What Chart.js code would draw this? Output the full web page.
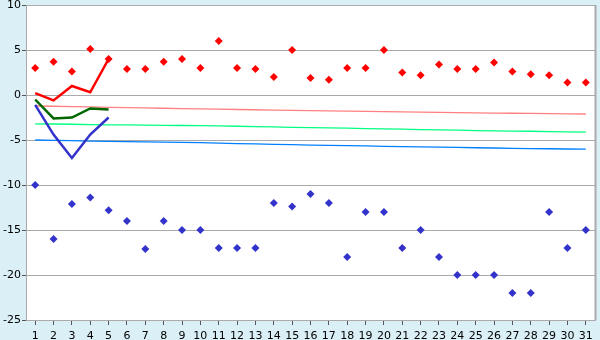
<!DOCTYPE html>
<html>
<head>
<meta charset="utf-8">
<script src="https://cdn.jsdelivr.net/npm/chart.js@4/dist/chart.umd.min.js"></script>
<style>
  html, body { margin: 0; padding: 0; background: #daf0f6; }
</style>
</head>
<body>
<canvas id="tempChart" width="600" height="340"></canvas>
<script>
const days = ["1","2","3","4","5","6","7","8","9","10","11","12","13","14","15","16",
  "17","18","19","20","21","22","23","24","25","26","27","28","29","30","31"];

// daily highs / lows (markers)
const highs = [3.0, 3.7, 2.6, 5.1, 4.0, 2.9, 2.9, 3.7, 4.0, 3.0, 6.0, 3.0, 2.9, 2.0, 5.0, 1.9,
  1.7, 3.0, 3.0, 5.0, 2.5, 2.2, 3.4, 2.9, 2.9, 3.6, 2.6, 2.3, 2.2, 1.4, 1.4];
const lows = [-10, -16, -12.1, -11.4, -12.8, -14, -17.1, -14, -15, -15, -17, -17, -17, -12, -12.4, -11,
  -12, -18, -13, -13, -17, -15, -18, -20, -20, -20, -22, -22, -13, -17, -15];

// this month's running lines (first 5 days)
const maxLine = [0.2, -0.6, 1.0, 0.3, 4.0];
const meanLine = [-0.5, -2.6, -2.5, -1.5, -1.6];
const minLine = [-1.1, -4.4, -7.0, -4.4, -2.5];

// normals
const normalMax = [-1.22, -1.25, -1.29, -1.33, -1.37, -1.40, -1.44, -1.47, -1.51, -1.54, -1.57, -1.61,
  -1.64, -1.67, -1.70, -1.73, -1.76, -1.79, -1.82, -1.85, -1.88, -1.91, -1.93, -1.96, -1.98, -2.01,
  -2.03, -2.05, -2.07, -2.09, -2.11];
const normalMean = [-3.20, -3.22, -3.25, -3.29, -3.31, -3.33, -3.35, -3.37, -3.39, -3.41, -3.44, -3.47,
  -3.51, -3.55, -3.59, -3.62, -3.66, -3.69, -3.73, -3.77, -3.80, -3.84, -3.88, -3.91, -3.95, -3.98,
  -4.01, -4.03, -4.06, -4.09, -4.12];
const normalMin = [-5.00, -5.04, -5.08, -5.12, -5.15, -5.18, -5.21, -5.24, -5.27, -5.30, -5.35, -5.40,
  -5.44, -5.48, -5.52, -5.56, -5.59, -5.63, -5.66, -5.70, -5.73, -5.77, -5.80, -5.83, -5.86, -5.89,
  -5.92, -5.95, -5.97, -6.00, -6.02];

const gridGrey = "#aaaaaa";

const bgPlugin = {
  id: "bg",
  beforeDraw(chart) {
    const c = chart.ctx;
    const a = chart.chartArea;
    c.save();
    c.fillStyle = "#daf0f6";
    c.fillRect(0, 0, chart.width, chart.height);
    c.fillStyle = "#ffffff";
    c.fillRect(a.left, a.top, a.right - a.left, a.bottom - a.top);
    c.restore();
  },
  beforeDatasetsDraw(chart) {
    const c = chart.ctx;
    const a = chart.chartArea;
    c.save();
    c.strokeStyle = gridGrey;
    c.lineWidth = 2;
    c.beginPath();
    c.moveTo(a.right + 0.5, a.top);
    c.lineTo(a.right + 0.5, a.bottom);
    c.stroke();
    c.restore();
  },
};

function pts(label, data, color) {
  return {
    label: label,
    data: data,
    showLine: false,
    pointStyle: "rectRot",
    pointRadius: 4,
    pointBorderWidth: 0,
    pointBackgroundColor: color,
    borderColor: color,
  };
}

function line(label, data, color, width) {
  return {
    label: label,
    data: data,
    borderColor: color,
    borderWidth: width,
    pointRadius: 0,
    tension: 0,
    fill: false,
  };
}

const ctx = document.getElementById("tempChart");
new Chart(ctx, {
  type: "line",
  data: {
    labels: days,
    datasets: [
      pts("最高", highs, "#ff0000"),
      pts("最低", lows, "#3333cc"),
      line("最高気温", maxLine, "#ff0000", 2.5),
      line("平均気温", meanLine, "#006600", 2.5),
      line("最低気温", minLine, "#3333cc", 2.5),
      line("平年最高", normalMax, "#ff8080", 1.3),
      line("平年平均", normalMean, "#00ff80", 1.3),
      line("平年最低", normalMin, "#0080ff", 1.3),
    ],
  },
  options: {
    responsive: false,
    animation: false,
    layout: { padding: { top: 5, right: 5, left: 0, bottom: 0 } },
    plugins: {
      legend: { display: false },
      tooltip: { enabled: false },
    },
    scales: {
      x: {
        offset: true,
        grid: {
          drawOnChartArea: false,
          drawTicks: true,
          tickLength: 5,
          color: "#555555",
          offset: false,
        },
        border: { color: gridGrey, width: 1 },
        ticks: {
          color: "#000000",
          padding: 5,
          maxRotation: 0,
          autoSkip: false,
          font: { family: "DejaVu Sans", size: 11 },
        },
        afterFit(scale) {
          scale.height = 20;
          scale.paddingLeft = 0;
          scale.paddingRight = 0;
        },
      },
      y: {
        min: -25,
        max: 10,
        ticks: {
          stepSize: 5,
          color: "#000000",
          padding: 1,
          font: { family: "DejaVu Sans", size: 11 },
        },
        grid: {
          color: gridGrey,
          tickLength: 4,
          tickColor: "#555555",
        },
        border: { color: gridGrey, width: 1 },
        afterFit(scale) {
          scale.width = 26;
          scale.paddingTop = 0;
          scale.paddingBottom = 0;
        },
      },
    },
  },
  plugins: [bgPlugin],
});
</script>
</body>
</html>
